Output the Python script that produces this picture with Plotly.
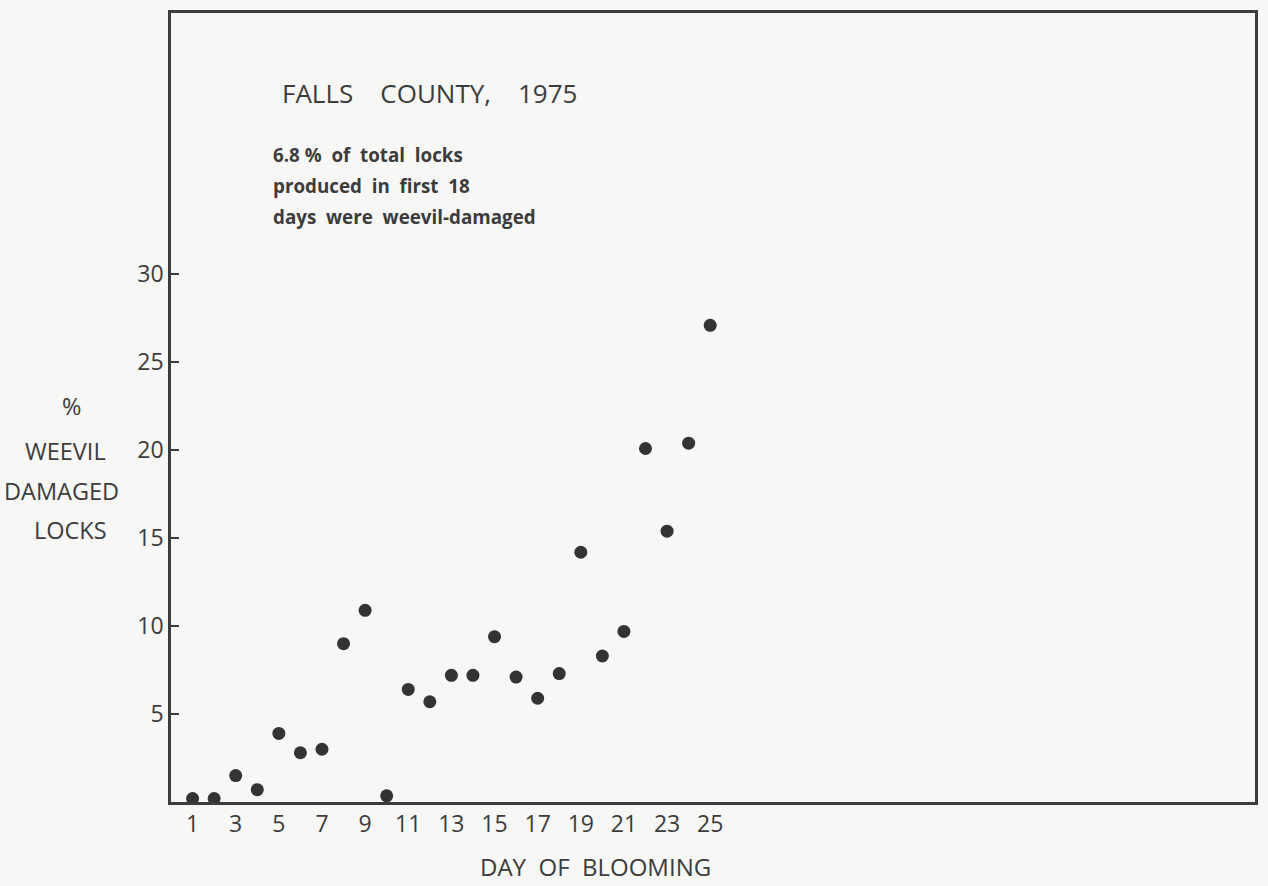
import plotly.graph_objects as go

# Percent of weevil-damaged locks by day of blooming, Falls County 1975
days = list(range(1, 26))
pct_damaged = [0.2, 0.2, 1.5, 0.7, 3.9, 2.8, 3.0, 9.0, 10.9, 0.35,
               6.4, 5.7, 7.2, 7.2, 9.4, 7.1, 5.9, 7.3, 14.2, 8.3,
               9.7, 20.1, 15.4, 20.4, 27.1]

x_ticks = list(range(1, 26, 2))
x_tick_text = [str(v) for v in x_ticks]
y_ticks = [5, 10, 15, 20, 25, 30]
y_tick_text = [str(v) for v in y_ticks]

title_text = "FALLS\u00a0\u00a0\u00a0\u00a0COUNTY,\u00a0\u00a0\u00a0\u00a01975"
note_lines = ["6.8\u00a0%\u00a0\u00a0of\u00a0\u00a0total\u00a0\u00a0locks",
              "produced\u00a0\u00a0in\u00a0\u00a0first\u00a0\u00a018",
              "days\u00a0\u00a0were\u00a0\u00a0weevil-damaged"]
y_title_lines = ["%", "WEEVIL", "DAMAGED", "LOCKS"]
x_title = "DAY\u00a0\u00a0OF\u00a0\u00a0BLOOMING"

INK = "#3c3c3c"
PAPER = "#f7f7f5"
FONT = "Open Sans"

fig = go.Figure()
fig.add_trace(go.Scatter(
    x=days, y=pct_damaged, mode="markers",
    marker=dict(size=13, color="#333333", line=dict(width=0)),
    cliponaxis=False, showlegend=False,
))

fig.update_layout(
    width=1268, height=886,
    margin=dict(l=171, r=10, t=10, b=84),
    paper_bgcolor=PAPER, plot_bgcolor=PAPER,
    font=dict(family=FONT, color=INK, size=20),
    showlegend=False,
)

fig.update_xaxes(
    range=[0, 50.26], tickvals=x_ticks, ticktext=x_tick_text,
    showgrid=False, zeroline=False, ticks="", ticklen=0,
    showline=True, linecolor=INK, linewidth=2.5, mirror=True,
    tickfont=dict(size=23, family=FONT, color=INK),
)
fig.update_yaxes(
    range=[0, 44.86], tickvals=y_ticks, ticktext=y_tick_text,
    showgrid=False, zeroline=False, ticks="inside", ticklen=8,
    tickwidth=2, tickcolor=INK,
    showline=True, linecolor=INK, linewidth=2.5, mirror=True,
    tickfont=dict(size=23, family=FONT, color=INK),
)

annotations = []
# panel heading
annotations.append(dict(
    text=title_text, xref="paper", yref="paper", x=0.101, y=0.899,
    xanchor="left", yanchor="middle", showarrow=False,
    font=dict(size=26, family=FONT, color=INK),
))
# summary note
for i, line in enumerate(note_lines):
    annotations.append(dict(
        text=line, xref="paper", yref="paper",
        x=0.092, y=(802.7 - (153 + 31 * i)) / 792.7,
        xanchor="left", yanchor="middle", showarrow=False,
        font=dict(size=18.8, family=FONT, color=INK, weight="bold"),
    ))
# y-axis title, stacked
for text, xpix, ypix in zip(y_title_lines, [71, 65, 61, 70], [405, 450, 490, 529]):
    annotations.append(dict(
        text=text, xref="paper", yref="paper",
        x=(xpix - 171) / 1087, y=(802.7 - ypix) / 792.7,
        xanchor="center", yanchor="middle", showarrow=False,
        font=dict(size=23.5, family=FONT, color=INK),
    ))
# x-axis title
annotations.append(dict(
    text=x_title, xref="paper", yref="paper",
    x=(597 - 171) / 1087, y=(802.7 - 868) / 792.7,
    xanchor="center", yanchor="middle", showarrow=False,
    font=dict(size=24, family=FONT, color=INK),
))
fig.update_layout(annotations=annotations)

fig.write_html("out.html")
